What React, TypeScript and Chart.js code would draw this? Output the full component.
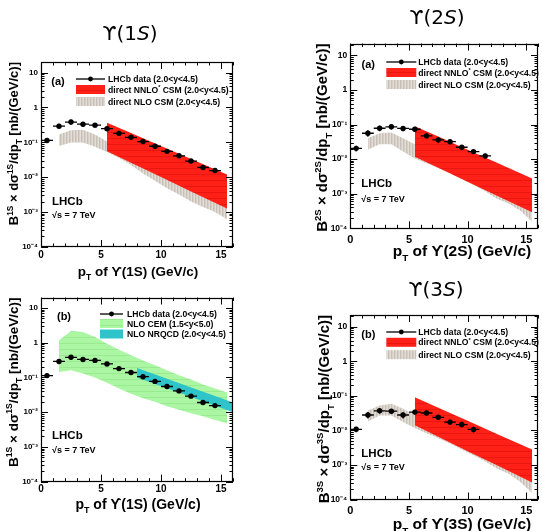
import React, { useEffect, useRef } from "react";
import { Chart, registerables } from "chart.js";
Chart.register(...registerables);

const FONT = '"Liberation Sans", Arial, Helvetica, sans-serif';
const TITLE_FONT = '"DejaVu Sans", sans-serif';

// ---------- ticks ----------
const xTickValues = [0, 5, 10, 15];
const xTickLabels = ["0", "5", "10", "15"];
const yTickValues = [1e-4, 1e-3, 1e-2, 1e-1, 1, 10];
const yTickLabels = ["10⁻⁴", "10⁻³", "10⁻²", "10⁻¹", "1", "10"];

// ---------- LHCb data ----------
const pt1S = [0.5, 1.5, 2.5, 3.5, 4.5, 5.5, 6.5, 7.5, 8.5, 9.5, 10.5, 11.5, 12.5, 13.5, 14.5];
const val1S = [0.113, 0.29, 0.38, 0.33, 0.31, 0.245, 0.18, 0.139, 0.105, 0.077, 0.055, 0.041, 0.029, 0.019, 0.0155];
const err1S = [0.015, 0.05, 0.06, 0.05, 0.045, 0.03, 0.02, 0.015, 0.011, 0.008, 0.006, 0.0045, 0.0032, 0.0022, 0.002];

const pt2S = [0.5, 1.5, 2.5, 3.5, 4.5, 5.5, 6.5, 7.5, 8.5, 9.5, 10.5, 11.5];
const val2S = [0.0205, 0.056, 0.078, 0.086, 0.077, 0.073, 0.047, 0.036, 0.032, 0.022, 0.0165, 0.0124];
const err2S = [0.004, 0.012, 0.014, 0.014, 0.013, 0.012, 0.007, 0.007, 0.005, 0.0035, 0.0025, 0.002];

const pt3S = [0.5, 1.5, 2.5, 3.5, 4.5, 5.5, 6.5, 7.5, 8.5, 9.5, 10.5];
const val3S = [0.0108, 0.028, 0.037, 0.036, 0.028, 0.034, 0.032, 0.024, 0.0174, 0.0148, 0.0107];
const err3S = [0.002, 0.006, 0.006, 0.006, 0.006, 0.005, 0.005, 0.004, 0.003, 0.0025, 0.002];

// ---------- direct NNLO* CSM ----------
const nnloPt = [5.5, 7.5, 10, 12.5, 15.5];
const nnloLo1S = [0.055, 0.026, 0.0101, 0.0039, 0.00127];
const nnloHi1S = [0.365, 0.184, 0.078, 0.033, 0.0119];
const nnloLo2S = [0.0118, 0.0056, 0.0022, 0.00087, 0.00029];
const nnloHi2S = [0.089, 0.0447, 0.0186, 0.0079, 0.00275];
const nnloLo3S = [0.0141, 0.0066, 0.0025, 0.00098, 0.00031];
const nnloHi3S = [0.091, 0.0457, 0.019, 0.0079, 0.0028];

// ---------- direct NLO CSM ----------
const nloPt = [1.5, 2.5, 3.5, 4.5, 5.5, 6.5, 7.5, 8.5, 9.5, 10.5, 11.5, 12.5, 13.5, 14.5, 15.5];
const nloLo1S = [0.0785, 0.098, 0.098, 0.074, 0.053, 0.0355, 0.0224, 0.0127, 0.0079, 0.0048, 0.0032, 0.002, 0.0014, 0.001, 0.00062];
const nloHi1S = [0.166, 0.22, 0.23, 0.166, 0.105, 0.071, 0.047, 0.028, 0.018, 0.0112, 0.0074, 0.0048, 0.0033, 0.0024, 0.0016];
const nloLo2S = [0.0186, 0.0269, 0.0269, 0.0166, 0.0105, 0.0076, 0.0054, 0.0039, 0.0026, 0.0018, 0.00117, 0.00072, 0.00052, 0.00032, 0.000155];
const nloHi2S = [0.04, 0.056, 0.059, 0.04, 0.027, 0.019, 0.0135, 0.0095, 0.0066, 0.0045, 0.003, 0.002, 0.0014, 0.00089, 0.0005];
const nloLo3S = [0.0182, 0.0269, 0.0269, 0.0174, 0.0117, 0.0083, 0.0059, 0.0042, 0.0028, 0.0019, 0.00126, 0.00079, 0.00056, 0.00032, 0.000155];
const nloHi3S = [0.038, 0.0525, 0.059, 0.0422, 0.0282, 0.02, 0.0141, 0.01, 0.0069, 0.0047, 0.0032, 0.0021, 0.00145, 0.00093, 0.0005];

// ---------- NLO CEM / NLO NRQCD ----------
const cemPt = [1.5, 2.5, 3.5, 4.5, 5.5, 6.5, 7.5, 8.5, 9.5, 10.5, 11.5, 12.5, 13.5, 14.5, 15.5];
const cemLo = [0.1435, 0.162, 0.129, 0.1, 0.0708, 0.0479, 0.0339, 0.0251, 0.02, 0.0148, 0.0117, 0.0093, 0.0076, 0.006, 0.0049];
const cemHi = [1.17, 2.16, 2.04, 1.45, 0.93, 0.63, 0.437, 0.309, 0.224, 0.16, 0.115, 0.087, 0.063, 0.048, 0.037];
const nrqcdPt = [8, 12, 16];
const nrqcdLo = [0.1, 0.0316, 0.01];
const nrqcdHi = [0.186, 0.06, 0.019];

// ---------- legend labels ----------
const legendCSM = ["LHCb data (2.0<y<4.5)", "direct NNLO* CSM (2.0<y<4.5)", "direct NLO CSM (2.0<y<4.5)"];
const legendCEM = ["LHCb data (2.0<y<4.5)", "NLO CEM (1.5<y<5.0)", "NLO NRQCD (2.0<y<4.5)"];

// ---------- panel layout ----------
const Y_AXIS_W = 30;
const X_AXIS_H = 20;

const panels: any[] = [
  {
    key: "p1", state: "1S", tag: "(a)",
    canvas: { x: 0, y: 0, w: 271, h: 285 }, plot: { l: 41, t: 62, r: 233, b: 247 }, ymax: 20,
    pt: pt1S, val: val1S, err: err1S,
    bands: [
      { pt: nloPt, lo: nloLo1S, hi: nloHi1S, kind: "grey" },
      { pt: nnloPt, lo: nnloLo1S, hi: nnloHi1S, kind: "red" },
    ],
    legend: legendCSM, legendKinds: ["data", "red", "grey"],
    title: { x: 130, y: 40, size: 20 },
    yTitle: { x: 18, size: 13 }, xTitle: { x: 138, y: 276, size: 13.5 },
    xTickSize: 10, xTickPad: 2, yTickSize: 8,
    leg: { tagX: 17, tagY: 20, rows: [17, 27.5, 39.5], s0: 35, s1: 64, tx: 67, size: 8.6 },
    lhcb: { x: 11, y1: -45, y2: -31 },
  },
  {
    key: "p2", state: "2S", tag: "(a)",
    canvas: { x: 271, y: 0, w: 271, h: 265 }, plot: { l: 350.3, t: 43.5, r: 542, b: 228.3 }, ymax: 22,
    pt: pt2S, val: val2S, err: err2S,
    bands: [
      { pt: nloPt, lo: nloLo2S, hi: nloHi2S, kind: "grey" },
      { pt: nnloPt, lo: nnloLo2S, hi: nnloHi2S, kind: "red" },
    ],
    legend: legendCSM, legendKinds: ["data", "red", "grey"],
    title: { x: 437, y: 24, size: 20 },
    yTitle: { x: 327, size: 15 }, xTitle: { x: 462, y: 256, size: 15.5 },
    xTickSize: 11, xTickPad: 5, yTickSize: 8.5,
    leg: { tagX: 18, tagY: 21.5, rows: [18.5, 29, 41], s0: 36, s1: 66, tx: 68, size: 8.6 },
    lhcb: { x: 11, y1: -44, y2: -29 },
  },
  {
    key: "p3", state: "1S", tag: "(b)",
    canvas: { x: 0, y: 265, w: 271, h: 266 }, plot: { l: 41, t: 297.5, r: 233, b: 481.7 }, ymax: 20,
    pt: pt1S, val: val1S, err: err1S,
    bands: [
      { pt: cemPt, lo: cemLo, hi: cemHi, kind: "green" },
      { pt: nrqcdPt, lo: nrqcdLo, hi: nrqcdHi, kind: "cyan" },
    ],
    legend: legendCEM, legendKinds: ["data", "green", "cyan"],
    title: null,
    yTitle: { x: 18, size: 13.5 }, xTitle: { x: 138, y: 509, size: 14 },
    xTickSize: 10, xTickPad: 2, yTickSize: 8,
    leg: { tagX: 23, tagY: 19, rows: [16.5, 26, 36.5], s0: 59, s1: 82, tx: 86, size: 8.6 },
    lhcb: { x: 11, y1: -45.5, y2: -31.5 },
  },
  {
    key: "p4", state: "3S", tag: "(b)",
    canvas: { x: 271, y: 265, w: 271, h: 266 }, plot: { l: 350.3, t: 315, r: 542, b: 499.5 }, ymax: 22,
    pt: pt3S, val: val3S, err: err3S,
    bands: [
      { pt: nloPt, lo: nloLo3S, hi: nloHi3S, kind: "grey" },
      { pt: nnloPt, lo: nnloLo3S, hi: nnloHi3S, kind: "red" },
    ],
    legend: legendCSM, legendKinds: ["data", "red", "grey"],
    title: { x: 436, y: 296, size: 20 },
    yTitle: { x: 329, size: 15 }, xTitle: { x: 462, y: 529, size: 15.5 },
    xTickSize: 11, xTickPad: 5, yTickSize: 8.5,
    leg: { tagX: 18, tagY: 20, rows: [17, 27.3, 39.7], s0: 36, s1: 66, tx: 68, size: 8.6 },
    lhcb: { x: 11, y1: -45.5, y2: -31.5 },
  },
];

// ---------- helpers ----------
function makePattern(ctx: CanvasRenderingContext2D, kind: string): any {
  const t = document.createElement("canvas");
  const c = t.getContext("2d")!;
  if (kind === "grey") {
    t.width = 3; t.height = 4;
    c.fillStyle = "rgb(214,208,200)"; c.fillRect(0, 0, 3, 4);
    c.fillStyle = "rgb(200,192,183)"; c.fillRect(0, 0, 1, 4);
    c.fillStyle = "rgb(226,221,214)"; c.fillRect(2, 0, 1, 4);
  } else if (kind === "red") {
    t.width = 4; t.height = 6;
    c.fillStyle = "rgb(255,32,24)"; c.fillRect(0, 0, 4, 6);
    c.fillStyle = "rgb(236,22,16)"; c.fillRect(0, 0, 4, 1);
  } else if (kind === "green") {
    t.width = 4; t.height = 6;
    c.fillStyle = "rgb(170,246,162)"; c.fillRect(0, 0, 4, 6);
    c.fillStyle = "rgb(154,234,146)"; c.fillRect(0, 0, 4, 1);
  } else {
    t.width = 2; t.height = 2;
    c.fillStyle = "rgb(46,196,202)"; c.fillRect(0, 0, 2, 2);
  }
  return ctx.createPattern(t, "repeat");
}

type Seg = { t: string; s?: "sup" | "sub"; i?: boolean };

function drawRich(ctx: CanvasRenderingContext2D, segs: Seg[], x: number, y: number, size: number,
  align: string, family: string, weight: string) {
  const fontFor = (sg: Seg) => `${sg.i ? "italic " : ""}${weight} ${sg.s ? size * 0.64 : size}px ${family}`;
  let total = 0;
  const ws = segs.map((sg) => { ctx.font = fontFor(sg); const w = ctx.measureText(sg.t).width; total += w; return w; });
  let cx = align === "left" ? x : align === "center" ? x - total / 2 : x - total;
  ctx.textAlign = "left";
  ctx.textBaseline = "alphabetic";
  segs.forEach((sg, i) => {
    ctx.font = fontFor(sg);
    const dy = sg.s === "sup" ? -size * 0.42 : sg.s === "sub" ? size * 0.3 : 0;
    ctx.fillText(sg.t, cx, y + dy);
    cx += ws[i];
  });
}

function labelSegs(label: string): Seg[] {
  const idx = label.indexOf("*");
  if (idx < 0) return [{ t: label }];
  return [{ t: label.slice(0, idx) }, { t: "*", s: "sup" }, { t: label.slice(idx + 1) }];
}

function buildConfig(cfg: any, ctx: CanvasRenderingContext2D): any {
  const patterns: any = {};
  ["grey", "red", "green", "cyan"].forEach((k) => (patterns[k] = makePattern(ctx, k)));

  const datasets: any[] = [];
  cfg.bands.forEach((b: any, bi: number) => {
    const order = 10 - bi;
    datasets.push({
      data: b.pt.map((x: number, i: number) => ({ x, y: b.lo[i] })),
      borderColor: "rgba(0,0,0,0)", borderWidth: 0, pointRadius: 0, fill: false, order, tension: 0,
    });
    datasets.push({
      data: b.pt.map((x: number, i: number) => ({ x, y: b.hi[i] })),
      borderColor: "rgba(0,0,0,0)", borderWidth: 0, pointRadius: 0, fill: "-1",
      backgroundColor: patterns[b.kind], order, tension: 0,
    });
  });
  datasets.push({
    data: cfg.pt.map((x: number, i: number) => ({ x, y: cfg.val[i] })),
    showLine: false, pointRadius: 2.7, pointBackgroundColor: "#000", pointBorderWidth: 0,
    borderColor: "#000", backgroundColor: "#000", order: 0,
  });

  const ox = cfg.canvas.x, oy = cfg.canvas.y;
  const pad = {
    left: cfg.plot.l - ox - Y_AXIS_W,
    top: cfg.plot.t - oy,
    right: ox + cfg.canvas.w - cfg.plot.r,
    bottom: oy + cfg.canvas.h - cfg.plot.b - X_AXIS_H,
  };

  const decor = {
    id: "decor_" + cfg.key,
    afterDatasetsDraw(chart: any) {
      const c = chart.ctx;
      const xs = chart.scales.x, ys = chart.scales.y;
      c.save();
      c.strokeStyle = "#000";
      c.lineWidth = 1.3;
      c.beginPath();
      cfg.pt.forEach((x: number, i: number) => {
        const v = cfg.val[i], e = cfg.err[i];
        const px = xs.getPixelForValue(x), py = ys.getPixelForValue(v);
        c.moveTo(xs.getPixelForValue(x - 0.5), py);
        c.lineTo(xs.getPixelForValue(x + 0.5), py);
        c.moveTo(px, ys.getPixelForValue(v - e));
        c.lineTo(px, ys.getPixelForValue(v + e));
      });
      c.stroke();
      c.restore();
    },
    afterDraw(chart: any) {
      const c = chart.ctx;
      const { left, right, top, bottom } = chart.chartArea;
      const xs = chart.scales.x, ys = chart.scales.y;
      c.save();
      // inner ticks (ROOT style)
      c.strokeStyle = "#000";
      c.lineWidth = 1;
      c.beginPath();
      for (let e = -4; e <= 1; e++) {
        for (let k = 1; k <= 9; k++) {
          const v = k * Math.pow(10, e);
          if (v > cfg.ymax) break;
          const py = Math.round(ys.getPixelForValue(v)) + 0.5;
          const len = k === 1 ? 7 : 3.5;
          c.moveTo(left, py); c.lineTo(left + len, py);
          c.moveTo(right, py); c.lineTo(right - len, py);
        }
      }
      for (let v = 0; v <= 16; v++) {
        const px = Math.round(xs.getPixelForValue(v)) + 0.5;
        const len = v % 5 === 0 ? 7 : 3.5;
        c.moveTo(px, bottom); c.lineTo(px, bottom - len);
        c.moveTo(px, top); c.lineTo(px, top + len);
      }
      c.stroke();
      c.lineWidth = 1.2;
      c.strokeRect(Math.round(left) + 0.5, Math.round(top) + 0.5, Math.round(right - left) - 1, Math.round(bottom - top) - 1);

      // legend
      const L = cfg.leg;
      c.fillStyle = "#000";
      c.font = `bold 11px ${FONT}`;
      c.textAlign = "center";
      c.textBaseline = "middle";
      c.fillText(cfg.tag, left + L.tagX, top + L.tagY);
      cfg.legend.forEach((label: string, i: number) => {
        const cy = top + L.rows[i];
        const kind = cfg.legendKinds[i];
        if (kind === "data") {
          c.strokeStyle = "#000";
          c.lineWidth = 1.3;
          c.beginPath();
          c.moveTo(left + L.s0, cy); c.lineTo(left + L.s1, cy);
          c.stroke();
          c.fillStyle = "#000";
          c.beginPath();
          c.arc(left + (L.s0 + L.s1) / 2, cy, 2.4, 0, Math.PI * 2);
          c.fill();
        } else {
          c.fillStyle = patterns[kind];
          c.fillRect(left + L.s0, cy - 4.5, L.s1 - L.s0, 9);
        }
        c.fillStyle = "#000";
        drawRich(c, labelSegs(label), left + L.tx, cy + L.size * 0.36, L.size, "left", FONT, "bold");
      });

      // LHCb label
      c.fillStyle = "#000";
      c.textAlign = "left";
      c.textBaseline = "middle";
      c.font = `bold 11.5px ${FONT}`;
      c.fillText("LHCb", left + cfg.lhcb.x, bottom + cfg.lhcb.y1);
      c.font = `bold 9px ${FONT}`;
      c.fillText("√s = 7 TeV", left + cfg.lhcb.x, bottom + cfg.lhcb.y2);

      // y axis title
      const st = cfg.state;
      c.save();
      c.translate(cfg.yTitle.x - ox, top);
      c.rotate(-Math.PI / 2);
      drawRich(c, [
        { t: "B" }, { t: st, s: "sup" }, { t: " × d" }, { t: "σ" }, { t: st, s: "sup" },
        { t: "/dp" }, { t: "T", s: "sub" }, { t: " [nb/(GeV/c)]" },
      ], 0, 0, cfg.yTitle.size, "right", FONT, "bold");
      c.restore();

      // x axis title
      drawRich(c, [{ t: "p" }, { t: "T", s: "sub" }, { t: ` of ϒ(${st}) (GeV/c)` }],
        cfg.xTitle.x - ox, cfg.xTitle.y - oy, cfg.xTitle.size, "center", FONT, "bold");

      // panel title
      if (cfg.title) {
        drawRich(c, [{ t: "ϒ(" + st[0] }, { t: "S", i: true }, { t: ")" }],
          cfg.title.x - ox, cfg.title.y - oy, cfg.title.size, "center", TITLE_FONT, "normal");
      }
      c.restore();
    },
  };

  return {
    type: "line",
    data: { datasets },
    plugins: [decor],
    options: {
      responsive: false,
      animation: false,
      devicePixelRatio: 1,
      events: [],
      layout: { padding: pad },
      plugins: { legend: { display: false }, tooltip: { enabled: false }, title: { display: false } },
      scales: {
        x: {
          type: "linear", min: 0, max: 16,
          grid: { display: false, drawTicks: false, tickLength: 0 },
          border: { display: false },
          ticks: {
            color: "#000", padding: cfg.xTickPad, maxRotation: 0, autoSkip: false,
            font: { family: FONT, size: cfg.xTickSize, weight: "bold" },
            callback: (v: any) => {
              const i = xTickValues.indexOf(Number(v));
              return i >= 0 ? xTickLabels[i] : "";
            },
          },
          afterBuildTicks: (s: any) => { s.ticks = xTickValues.map((v) => ({ value: v })); },
          afterFit: (s: any) => { s.height = X_AXIS_H; },
        },
        y: {
          type: "logarithmic", min: 1e-4, max: cfg.ymax,
          grid: { display: false, drawTicks: false, tickLength: 0 },
          border: { display: false },
          ticks: {
            color: "#000", padding: 3, autoSkip: false,
            font: { family: FONT, size: cfg.yTickSize, weight: "bold" },
            callback: (v: any) => {
              const i = yTickValues.findIndex((t) => Math.abs(t - Number(v)) / t < 1e-6);
              return i >= 0 ? yTickLabels[i] : "";
            },
          },
          afterBuildTicks: (s: any) => { s.ticks = yTickValues.map((v) => ({ value: v })); },
          afterFit: (s: any) => { s.width = Y_AXIS_W; },
        },
      },
    },
  };
}

function Panel({ cfg }: { cfg: any }) {
  const ref = useRef<HTMLCanvasElement>(null);
  useEffect(() => {
    const canvas = ref.current!;
    const ctx = canvas.getContext("2d")!;
    const chart = new Chart(canvas, buildConfig(cfg, ctx));
    return () => chart.destroy();
  }, []);
  return (
    <canvas
      ref={ref}
      width={cfg.canvas.w}
      height={cfg.canvas.h}
      style={{ position: "absolute", left: cfg.canvas.x, top: cfg.canvas.y, width: cfg.canvas.w, height: cfg.canvas.h }}
    />
  );
}

export default function App() {
  return (
    <div style={{ position: "fixed", left: 0, top: 0, width: 542, height: 531, overflow: "hidden", background: "#fff" }}>
      {panels.map((p) => <Panel key={p.key} cfg={p} />)}
    </div>
  );
}
